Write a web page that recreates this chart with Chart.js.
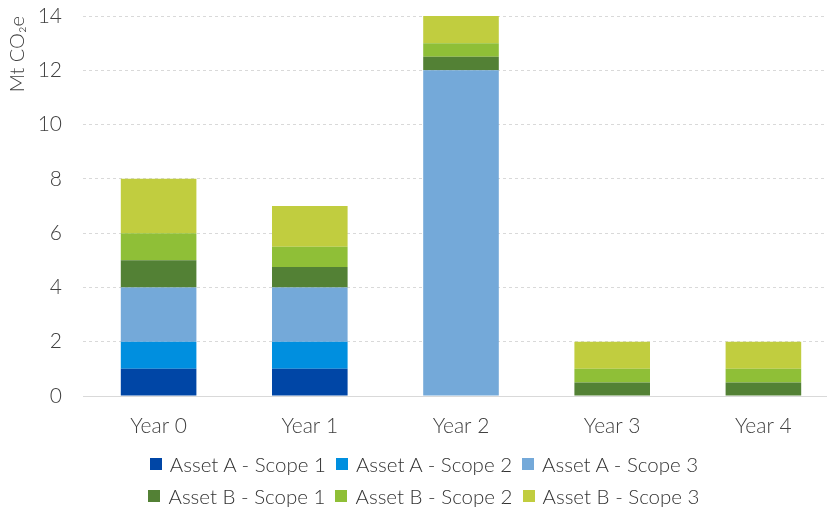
<!DOCTYPE html>
<html>
<head>
<meta charset="utf-8">
<script src="https://cdn.jsdelivr.net/npm/chart.js@4"></script>
<style>
  html, body { margin: 0; padding: 0; background: #fff; overflow: hidden; }
  #wrap { position: relative; width: 840px; height: 513px; }
  #legend {
    position: absolute; left: 0; top: 448px; width: 848px;
    font-family: Lato, "Open Sans", sans-serif; font-weight: 300;
    font-size: 20.5px; color: #333;
  }
  .row { display: flex; justify-content: center; height: 32px; align-items: center; }
  .item { display: flex; align-items: center; white-space: nowrap; margin: 0 5px; }
  .box { width: 12px; height: 12px; margin-right: 8px; flex: none; }
</style>
</head>
<body>
<div id="wrap">
  <canvas id="emissionsChart" width="840" height="513"></canvas>
  <div id="legend"></div>
</div>
<script>
// categories
const years = ['Year 0', 'Year 1', 'Year 2', 'Year 3', 'Year 4'];

// series values (Mt CO2e)
const assetAScope1 = [1, 1, 0, 0, 0];
const assetAScope2 = [1, 1, 0, 0, 0];
const assetAScope3 = [2, 2, 12, 0, 0];
const assetBScope1 = [1, 0.75, 0.5, 0.5, 0.5];
const assetBScope2 = [1, 0.75, 0.5, 0.5, 0.5];
const assetBScope3 = [2, 1.5, 1, 1, 1];

const seriesNames = [
    'Asset A - Scope 1', 'Asset A - Scope 2', 'Asset A - Scope 3',
    'Asset B - Scope 1', 'Asset B - Scope 2', 'Asset B - Scope 3'
];
const seriesValues = [assetAScope1, assetAScope2, assetAScope3, assetBScope1, assetBScope2, assetBScope3];
const seriesColors = ['#0046A6', '#008FDF', '#74A9D9', '#538135', '#8FBF37', '#C1CD3F'];

const fontFamily = 'Lato, "Open Sans", sans-serif';

const datasets = seriesNames.map((name, i) => ({
    label: name,
    data: seriesValues[i],
    backgroundColor: seriesColors[i],
    borderWidth: 0,
    barPercentage: 0.5,
    categoryPercentage: 1.0
}));

const ctx = document.getElementById('emissionsChart').getContext('2d');

new Chart(ctx, {
    type: 'bar',
    data: { labels: years, datasets: datasets },
    options: {
        responsive: false,
        animation: false,
        layout: { padding: { top: 16, right: 1, bottom: 72, left: 0 } },
        plugins: {
            legend: { display: false },
            tooltip: { enabled: false }
        },
        scales: {
            x: {
                stacked: true,
                grid: { display: false },
                border: { display: true, color: '#d9d9d9', width: 1 },
                ticks: {
                    color: '#404040',
                    padding: 10,
                    font: { family: fontFamily, size: 21, weight: 300 }
                },
                afterFit: (scale) => { scale.height = 45; }
            },
            y: {
                stacked: true,
                min: 0,
                max: 14,
                grid: { color: '#d9d9d9', drawTicks: false },
                border: { display: false, dash: [3, 3] },
                ticks: {
                    stepSize: 2,
                    color: '#404040',
                    padding: 21,
                    font: { family: fontFamily, size: 21, weight: 300 }
                },
                title: {
                    display: true,
                    text: 'Mt CO\u2082e',
                    align: 'end',
                    color: '#404040',
                    padding: { top: 6, bottom: 0 },
                    font: { family: fontFamily, size: 20, weight: 300 }
                },
                afterFit: (scale) => {
                    scale.width = 83;
                    scale.paddingTop = 0;
                    scale.paddingBottom = 0;
                }
            }
        }
    }
});

// legend in two rows of three, like the original
const legend = document.getElementById('legend');
[[0, 1, 2], [3, 4, 5]].forEach((rowIdx) => {
    const row = document.createElement('div');
    row.className = 'row';
    rowIdx.forEach((i) => {
        const item = document.createElement('div');
        item.className = 'item';
        const box = document.createElement('span');
        box.className = 'box';
        box.style.background = seriesColors[i];
        item.appendChild(box);
        item.appendChild(document.createTextNode(seriesNames[i]));
        row.appendChild(item);
    });
    legend.appendChild(row);
});
</script>
</body>
</html>
